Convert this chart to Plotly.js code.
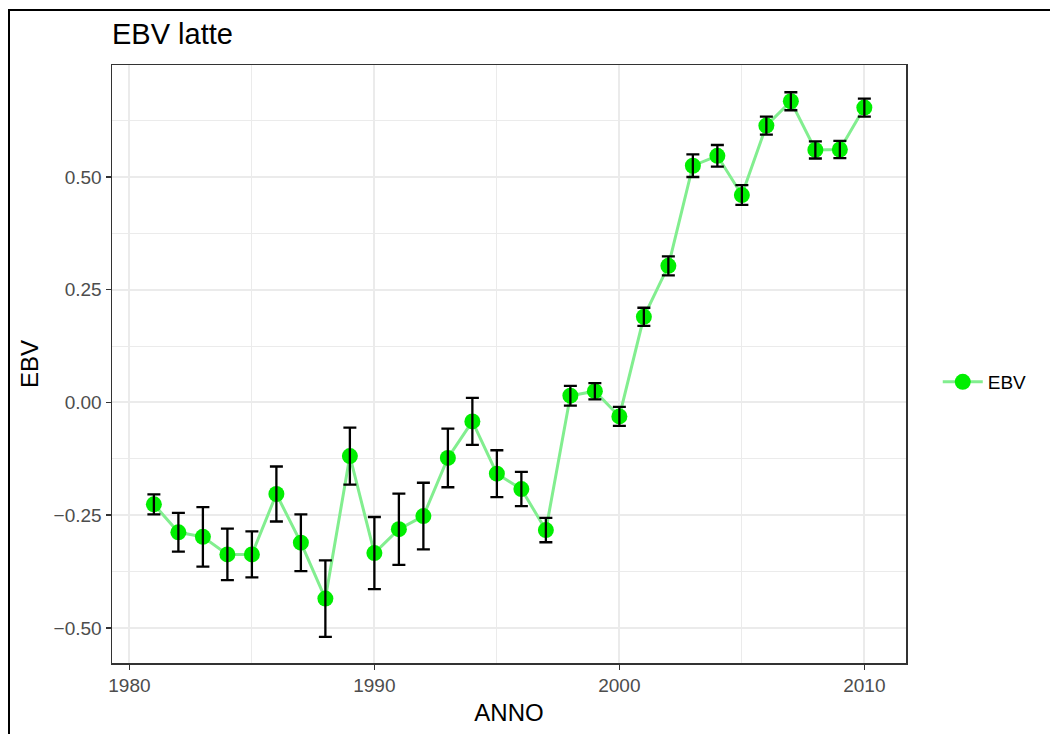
<!DOCTYPE html>
<html>
<head>
<meta charset="utf-8">
<script src="https://cdn.plot.ly/plotly-3.0.1.min.js"></script>
<style>
  html, body { margin: 0; padding: 0; background: #ffffff; }
  #chart { width: 1050px; height: 734px; }
</style>
</head>
<body>
<div id="chart"></div>
<script>
// Estimated breeding values for milk, by year, with their error half-widths
const anni = [1981, 1982, 1983, 1984, 1985, 1986, 1987, 1988, 1989, 1990,
              1991, 1992, 1993, 1994, 1995, 1996, 1997, 1998, 1999, 2000,
              2001, 2002, 2003, 2004, 2005, 2006, 2007, 2008, 2009, 2010];
const ebv = [-0.226, -0.288, -0.298, -0.337, -0.337, -0.203, -0.311, -0.435, -0.119, -0.334,
             -0.281, -0.252, -0.123, -0.042, -0.158, -0.192, -0.283, 0.015, 0.025, -0.031,
             0.190, 0.303, 0.525, 0.547, 0.460, 0.614, 0.668, 0.560, 0.561, 0.654];
const errore = [0.022, 0.043, 0.066, 0.057, 0.051, 0.061, 0.063, 0.085, 0.063, 0.080,
                0.079, 0.074, 0.065, 0.052, 0.052, 0.038, 0.027, 0.022, 0.018, 0.021,
                0.020, 0.021, 0.025, 0.024, 0.022, 0.020, 0.020, 0.019, 0.019, 0.020];

const xTickVals = [1980, 1990, 2000, 2010];
const xTickText = ['1980', '1990', '2000', '2010'];
const yTickVals = [-0.5, -0.25, 0, 0.25, 0.5];
const yTickText = ['\u22120.50', '\u22120.25', '0.00', '0.25', '0.50'];

const FONT = 'Liberation Sans, Arial, sans-serif';

const traces = [
  {
    x: anni, y: ebv, name: 'EBV', type: 'scatter', mode: 'lines+markers',
    line: { color: '#82EE8F', width: 3 },
    marker: { color: '#00EE00', size: 16 },
    hoverinfo: 'x+y'
  },
  {
    // error bars drawn above the points
    x: anni, y: ebv, type: 'scatter', mode: 'markers', showlegend: false,
    marker: { color: 'rgba(0,0,0,0)', size: 1 },
    error_y: { type: 'data', array: errore, visible: true, color: '#000000', thickness: 2.3, width: 6.5 },
    hoverinfo: 'skip'
  }
];

const grid = '#EBEBEB';

const layout = {
  width: 1050, height: 734,
  margin: { l: 112, r: 144, t: 65, b: 71 },
  paper_bgcolor: '#ffffff', plot_bgcolor: '#ffffff',
  font: { family: FONT, color: '#000000' },
  title: {
    text: 'EBV latte', font: { family: FONT, size: 29, color: '#000000' },
    xref: 'paper', x: 0, xanchor: 'left', yref: 'container', y: 1 - 34 / 734, yanchor: 'middle'
  },
  xaxis: {
    range: [1979.29, 2011.70],
    tickvals: xTickVals, ticktext: xTickText,
    ticks: 'outside', ticklen: 5, tickwidth: 1.5, tickcolor: '#333333',
    tickfont: { family: FONT, size: 19, color: '#4D4D4D' },
    showgrid: true, gridcolor: grid, gridwidth: 2,
    minor: { tickvals: [1985, 1995, 2005], showgrid: true, gridcolor: grid, gridwidth: 1, ticks: '' },
    zeroline: false,
    showline: true, mirror: true, linecolor: '#333333', linewidth: 1.5,
    title: { text: 'ANNO', font: { family: FONT, size: 24, color: '#000000' }, standoff: 9 }
  },
  yaxis: {
    range: [-0.5778, 0.7484],
    tickvals: yTickVals, ticktext: yTickText,
    ticks: 'outside', ticklen: 5, tickwidth: 1.5, tickcolor: '#333333',
    tickfont: { family: FONT, size: 19, color: '#4D4D4D' },
    showgrid: true, gridcolor: grid, gridwidth: 2,
    minor: { tickvals: [-0.375, -0.125, 0.125, 0.375, 0.625], showgrid: true, gridcolor: grid, gridwidth: 1, ticks: '' },
    zeroline: false,
    showline: true, mirror: true, linecolor: '#333333', linewidth: 1.5,
    title: { text: 'EBV', font: { family: FONT, size: 24, color: '#000000' }, standoff: 8 }
  },
  legend: {
    x: 1.04, xanchor: 'left', y: 0.47, yanchor: 'middle', itemwidth: 40,
    font: { family: FONT, size: 19, color: '#000000' },
    bgcolor: 'rgba(0,0,0,0)', borderwidth: 0
  },
  showlegend: true,
  shapes: [
    {
      // outer frame around the figure
      type: 'rect', xref: 'paper', yref: 'paper',
      x0: -103 / 794, x1: 1.4, y0: -0.4, y1: 653 / 598,
      line: { color: '#000000', width: 2 }, fillcolor: 'rgba(0,0,0,0)', layer: 'above'
    }
  ]
};

Plotly.newPlot('chart', traces, layout, { displayModeBar: false, staticPlot: true });
</script>
</body>
</html>
